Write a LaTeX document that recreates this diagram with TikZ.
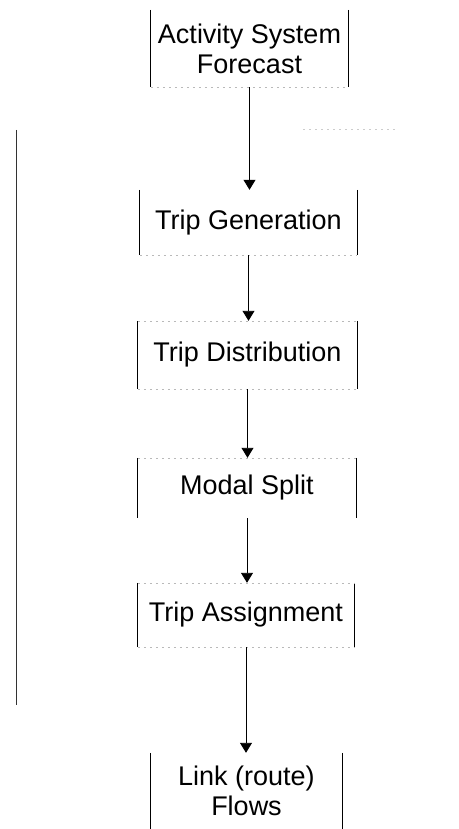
\documentclass[tikz,border=0pt]{standalone}
\usepackage{fontspec}
\setmainfont{Liberation Sans}
\usetikzlibrary{arrows.meta}
\begin{document}
\begin{tikzpicture}[x=1pt,y=-1pt,
  boxnode/.style={draw=none, inner sep=0pt, align=center,
    font=\fontsize{27}{30}\selectfont},
  side/.style={line width=0.9pt, black},
  edge/.style={line width=0.6pt, gray!55, dash pattern=on 2pt off 4pt},
  arr/.style={line width=0.9pt, -{Triangle[length=10pt,width=12pt]}}]
\useasboundingbox (0,0) rectangle (458,829);
% boxes
\node[boxnode, minimum width=197, minimum height=77] (b1) at (249.5,48.5) {Activity System\\Forecast};
\node[boxnode, minimum width=217, minimum height=65] (b2) at (248.5,222.5) {Trip Generation};
\node[boxnode, minimum width=219, minimum height=68] (b3) at (247.5,355) {Trip Distribution};
\node[boxnode, minimum width=218, minimum height=60] (b4) at (247,488) {Modal Split};
\node[boxnode, minimum width=216, minimum height=64] (b5) at (246,615) {Trip Assignment};
\node[boxnode, minimum width=191, minimum height=76] (b6) at (246.5,791) {Link (route)\\Flows};
% vertical sides
\foreach \b in {b1,b2,b3,b4,b5,b6}{
  \draw[side] (\b.north west) -- (\b.south west);
  \draw[side] (\b.north east) -- (\b.south east);
}
% faint horizontal edges
\draw[edge] (b1.south west) -- (b1.south east);
\draw[edge] (b2.south west) -- (b2.south east);
\draw[edge] (b3.north west) -- (b3.north east);
\draw[edge] (b3.south west) -- (b3.south east);
\draw[edge] (b4.north west) -- (b4.north east);
\draw[edge] (b5.north west) -- (b5.north east);
\draw[edge] (b5.south west) -- (b5.south east);
% arrows
\draw[arr] (b1.south) -- (b1.south |- b2.north);
\draw[arr] (b2.south) -- (b2.south |- b3.north);
\draw[arr] (b3.south) -- (b3.south |- b4.north);
\draw[arr] (b4.south) -- (b4.south |- b5.north);
\draw[arr] (b5.south) -- (b5.south |- b6.north);
% left bracket line
\coordinate (lt) at (16,130);
\coordinate (lb) at (16,705);
\draw[line width=0.9pt, black!80] (lt) -- (lb);
\coordinate (ht1) at (303,129);
\coordinate (ht2) at (395,129);
\draw[edge, gray!40] (ht1) -- (ht2);
\end{tikzpicture}
\end{document}
